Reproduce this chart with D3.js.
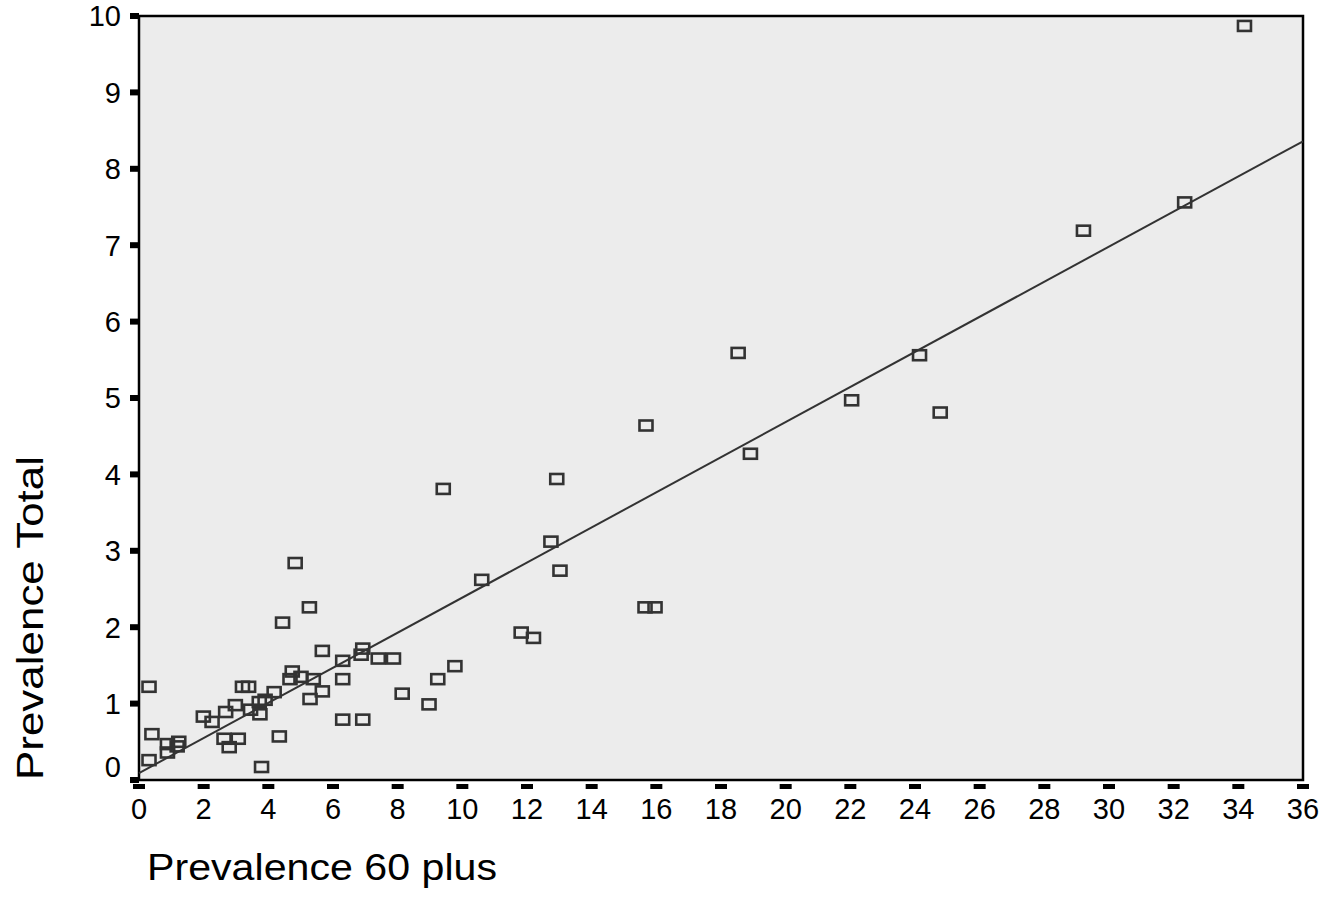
<!DOCTYPE html>
<html>
<head>
<meta charset="utf-8">
<script src="https://cdn.jsdelivr.net/npm/d3@7"></script>
<style>
  html, body { margin: 0; padding: 0; background: #fff; }
  text { font-family: "Liberation Sans", Arial, sans-serif; fill: #000; }
</style>
</head>
<body>
<svg id="chart" width="1330" height="919"></svg>
<script>
// values
const prev60 = [
  34.19, 32.34, 29.21, 18.53, 24.14, 22.04, 24.78, 15.68, 18.91, 9.41,
  12.92, 12.74, 13.02, 10.6, 15.65, 15.96, 4.83, 5.27, 4.44, 11.82,
  12.2, 5.67, 6.92, 6.87, 6.3, 7.4, 7.87, 9.77, 9.24, 6.3,
  8.14, 5.67, 8.97, 6.3, 6.92, 0.31, 0.4, 0.31, 0.88, 0.88,
  1.23, 1.18, 1.99, 2.26, 2.68, 2.98, 2.63, 2.79, 3.07, 3.2,
  3.39, 3.45, 3.72, 3.74, 3.9, 4.18, 4.34, 3.79, 4.74, 4.67,
  5.01, 5.39, 5.29
]
const prevTotal = [
  9.87, 7.56, 7.19, 5.59, 5.56, 4.97, 4.81, 4.64, 4.27, 3.81,
  3.94, 3.12, 2.74, 2.62, 2.26, 2.26, 2.84, 2.26, 2.06, 1.93,
  1.86, 1.69, 1.72, 1.64, 1.56, 1.59, 1.59, 1.49, 1.32, 1.32,
  1.13, 1.16, 0.99, 0.79, 0.79, 1.22, 0.60, 0.26, 0.47, 0.36,
  0.50, 0.44, 0.83, 0.76, 0.89, 0.98, 0.54, 0.43, 0.54, 1.22,
  1.22, 0.92, 1.02, 0.86, 1.05, 1.15, 0.57, 0.17, 1.42, 1.32,
  1.35, 1.32, 1.06
]
const xTicks = d3.range(0, 37, 2)
const yTicks = d3.range(0, 11, 1)
// fit line ends
const fitX = [0, 36]
const fitY = [0.09, 8.36]

const margin = { left: 139, top: 16, right: 27, bottom: 139 }
const W = 1330, H = 919
const svg = d3.select("#chart")

const x = d3.scaleLinear().domain([0, 36]).range([margin.left, W - margin.right])
const y = d3.scaleLinear().domain([0, 10]).range([H - margin.bottom, margin.top])

// plot background + frame
svg.append("rect")
  .attr("x", x(0)).attr("y", y(10))
  .attr("width", x(36) - x(0)).attr("height", y(0) - y(10))
  .attr("fill", "#ececec")
  .attr("stroke", "#000")
  .attr("stroke-width", 2.5)

// y ticks (little black blocks left of the axis)
svg.append("g").selectAll("rect")
  .data(yTicks)
  .join("rect")
  .attr("x", x(0) - 9).attr("y", (d) => y(d) - 3)
  .attr("width", 9).attr("height", 6)
  .attr("fill", "#000")

svg.append("g").selectAll("text")
  .data(yTicks)
  .join("text")
  .attr("x", 121)
  .attr("y", (d) => (d === 0 ? y(d) - 13 : y(d)))
  .attr("dy", "0.36em")
  .attr("text-anchor", "end")
  .style("font-size", "29px")
  .text((d) => d)

// x ticks (blocks below the axis)
svg.append("g").selectAll("rect")
  .data(xTicks)
  .join("rect")
  .attr("x", (d) => x(d) - 6).attr("y", y(0) + 4)
  .attr("width", 12).attr("height", 5)
  .attr("fill", "#000")

svg.append("g").selectAll("text")
  .data(xTicks)
  .join("text")
  .attr("x", (d) => x(d))
  .attr("y", y(0) + 29)
  .attr("dy", "0.36em")
  .attr("text-anchor", "middle")
  .style("font-size", "29px")
  .text((d) => d)

// fit line
svg.append("line")
  .attr("x1", x(fitX[0])).attr("y1", y(fitY[0]))
  .attr("x2", x(fitX[1])).attr("y2", y(fitY[1]))
  .attr("stroke", "#333")
  .attr("stroke-width", 2)

// markers
const pts = prev60.map((v, i) => ({ x: v, y: prevTotal[i] }))
svg.append("g").selectAll("rect")
  .data(pts)
  .join("rect")
  .attr("x", (d) => x(d.x) - 6.5)
  .attr("y", (d) => y(d.y) - 5)
  .attr("width", 13).attr("height", 10)
  .attr("fill", "none")
  .attr("stroke", "#333")
  .attr("stroke-width", 2.6)

// axis titles
svg.append("text")
  .attr("x", 147).attr("y", 867)
  .attr("dy", "0.36em")
  .attr("textLength", 350)
  .attr("lengthAdjust", "spacingAndGlyphs")
  .style("font-size", "36px")
  .text("Prevalence 60 plus")

svg.append("text")
  .attr("transform", "translate(30, 780) rotate(-90)")
  .attr("dy", "0.36em")
  .attr("textLength", 324)
  .attr("lengthAdjust", "spacingAndGlyphs")
  .style("font-size", "36px")
  .text("Prevalence Total")
</script>
</body>
</html>
